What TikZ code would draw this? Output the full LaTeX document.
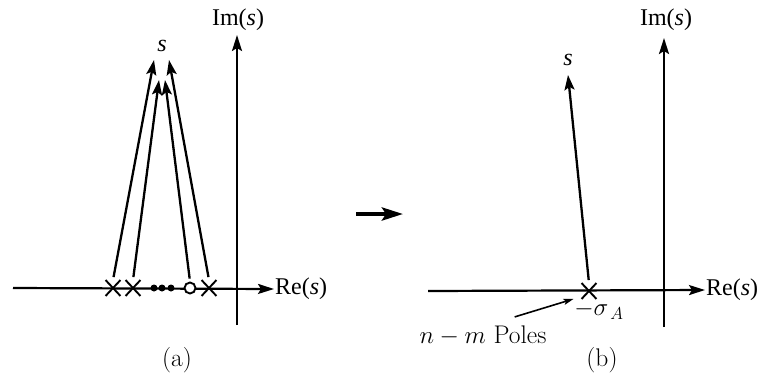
\documentclass[tikz,border=0pt]{standalone}
\usepackage{fontspec}
\usepackage{tikz}
\usetikzlibrary{arrows.meta,shapes.misc}
\newfontfamily\bookfont{Liberation Serif}
\newcommand{\booksize}{\fontsize{24}{28}\selectfont}
\newcommand{\capsize}{\fontsize{25.5}{30}\selectfont}

\tikzset{
  axis/.style={line width=2.2pt,-{Stealth[length=16pt,width=10pt,inset=3pt]}},
  ray/.style={line width=2.3pt,shorten <=3pt,-{Stealth[length=15pt,width=10pt,inset=3pt]}},
  ptr/.style={line width=1.6pt,-{Stealth[length=10pt,width=6pt,inset=2pt]}},
  big/.style={line width=4pt,-{Stealth[length=21pt,width=13pt,inset=4pt]}},
  pole/.style={cross out,draw,line width=1.9pt,minimum width=13pt,minimum height=14pt,inner sep=0pt},
  zero/.style={circle,draw,line width=1.9pt,fill=white,minimum size=11pt,inner sep=0pt},
  dot/.style={circle,fill,minimum size=7pt,inner sep=0pt},
  booklbl/.style={font=\bookfont\booksize,inner sep=1pt},
  caplbl/.style={font=\capsize,inner sep=1pt}
}

\begin{document}
\begin{tikzpicture}[x=1pt,y=-1pt]
\path[use as bounding box] (0,0) rectangle (759,381);
% (a) several poles and zeros
\coordinate (reAstart) at (13,288);
\coordinate (imAstart) at (237,325);
\coordinate (imAend) at (237,35);
\node[booklbl,anchor=west] (reAlbl) at (274,289) {Re(\textit{s})};
\node[booklbl] (imAlbl) at (238,20) {Im(\textit{s})};
\draw[axis] (reAstart) -- (reAlbl.west);
\draw[axis] (imAstart) -- (imAend);
\node[pole] (pa1) at (113,288) {};
\node[pole] (pa2) at (133,288) {};
\node[dot] (da1) at (154,288) {};
\node[dot] (da2) at (162,288) {};
\node[dot] (da3) at (171,288) {};
\node[zero] (za1) at (190,288) {};
\node[pole] (pa3) at (209,288) {};
\coordinate (ta1) at (154,60);
\coordinate (ta2) at (159,80);
\coordinate (ta3) at (165,80);
\coordinate (ta4) at (169,60);
\node[booklbl] (sAlbl) at (162,46) {\textit{s}};
\draw[ray] (pa1.north) -- (ta1);
\draw[ray] (pa2.north) -- (ta2);
\draw[ray] (za1.north) -- (ta3);
\draw[ray] (pa3.north) -- (ta4);
\node[caplbl] (capA) at (177,360) {(a)};

% arrow between the two panels
\coordinate (mid1) at (356,214);
\coordinate (mid2) at (403,214);
\draw[big] (mid1) -- (mid2);

% (b) the asymptote
\coordinate (reBstart) at (428,291);
\coordinate (imBstart) at (664,327);
\coordinate (imBend) at (664,38);
\node[booklbl,anchor=west] (reBlbl) at (705,290) {Re(\textit{s})};
\node[booklbl] (imBlbl) at (666,20) {Im(\textit{s})};
\draw[axis] (reBstart) -- (reBlbl.west);
\draw[axis] (imBstart) -- (imBend);
\node[pole] (pb) at (589,291) {};
\coordinate (tb) at (568,75);
\node[booklbl] (sBlbl) at (568,60) {\textit{s}};
\draw[ray] (pb.north) -- (tb);
\node[caplbl] (sigma) at (599,310) {$-\sigma_{\,A}$};
\node[caplbl] (polestxt) at (483,336) {$n-m$ Poles};
\draw[ptr] ([xshift=-33pt,yshift=8pt]polestxt.north east) -- ([xshift=-8pt]pb.south west);
\node[caplbl] (capB) at (602,360) {(b)};
\end{tikzpicture}
\end{document}
